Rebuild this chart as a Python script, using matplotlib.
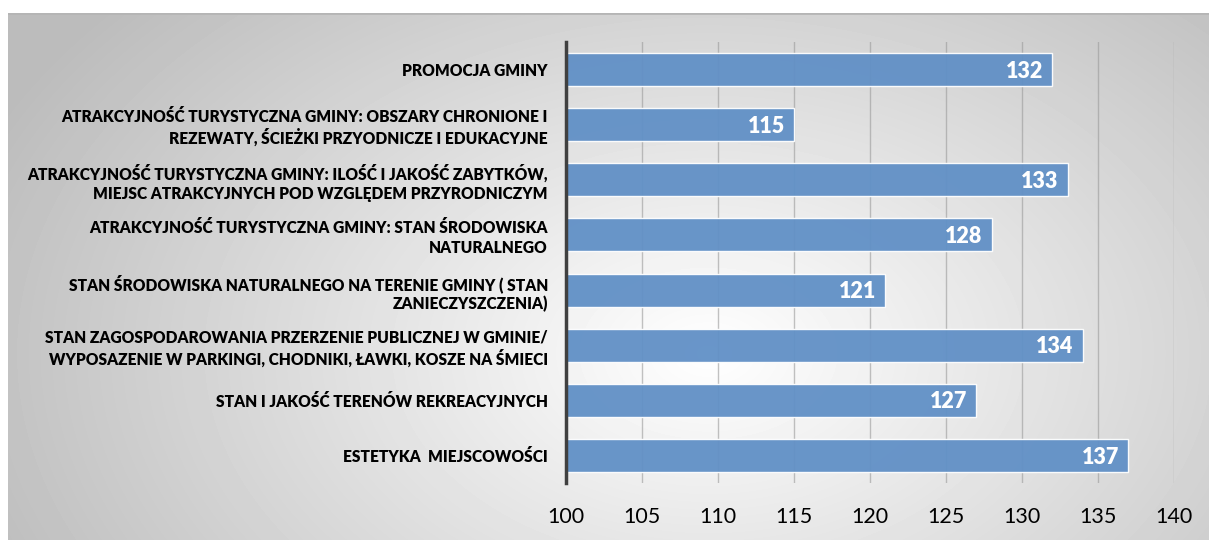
import numpy as np
import matplotlib.pyplot as plt

categories = [
    "PROMOCJA GMINY",
    "ATRAKCYJNOŚĆ TURYSTYCZNA GMINY: OBSZARY CHRONIONE I\nREZEWATY, ŚCIEŻKI PRZYODNICZE I EDUKACYJNE",
    "ATRAKCYJNOŚĆ TURYSTYCZNA GMINY: ILOŚĆ I JAKOŚĆ ZABYTKÓW,\nMIEJSC ATRAKCYJNYCH POD WZGLĘDEM PRZYRODNICZYM",
    "ATRAKCYJNOŚĆ TURYSTYCZNA GMINY: STAN ŚRODOWISKA\nNATURALNEGO",
    "STAN ŚRODOWISKA NATURALNEGO NA TERENIE GMINY ( STAN\nZANIECZYSZCZENIA)",
    "STAN ZAGOSPODAROWANIA PRZERZENIE PUBLICZNEJ W GMINIE/\nWYPOSAZENIE W PARKINGI, CHODNIKI, ŁAWKI, KOSZE NA ŚMIECI",
    "STAN I JAKOŚĆ TERENÓW REKREACYJNYCH",
    "ESTETYKA  MIEJSCOWOŚCI",
]
values = [132, 115, 133, 128, 121, 134, 127, 137]
xticks = [100, 105, 110, 115, 120, 125, 130, 135, 140]

plt.rcParams['font.family'] = ['Lato', 'DejaVu Sans']

fig = plt.figure(figsize=(12.09, 5.4), dpi=100)

# radial gradient background
bg = fig.add_axes([8 / 1209, 0, 1 - 8 / 1209, 1 - 13 / 540], zorder=0)
h, w = 527, 1201
yy, xx = np.mgrid[0:h, 0:w]
cx, cy = 700, 340
r = np.sqrt(((xx - cx) / 720.0) ** 2 + ((yy - cy) / 480.0) ** 2)
r = np.clip(r, 0, 1.1)
shade = 1.0 - 0.24 * r
bg.imshow(shade, cmap='gray', vmin=0, vmax=1, aspect='auto', extent=[0, 1, 0, 1])
bg.axhline(1, color='#b5b5b5', lw=2)
bg.set_axis_off()

ax = fig.add_axes([566 / 1209, 1 - 483 / 540, (1174 - 566) / 1209, (483 - 42) / 540], zorder=1)
ax.patch.set_alpha(0)
y = np.arange(len(categories))
ax.barh(y, np.array(values) - 100, left=100, height=0.6, color='#6190C6',
        edgecolor='white', linewidth=1, alpha=0.95, zorder=3)
for yi, v in zip(y, values):
    ax.text(v - 0.6, yi + 0.03, str(v), ha='right', va='center', color='white',
            fontsize=15.5, fontweight='heavy', zorder=4)

ax.set_xlim(100, 140)
ax.set_ylim(len(categories) - 0.5, -0.5)
ax.set_xticks(xticks)
ax.set_xticklabels([str(t) for t in xticks], fontsize=15.5)
ax.set_yticks(y)
ax.set_yticklabels(categories, fontsize=11.2, fontweight='heavy', linespacing=1.25)
ax.tick_params(axis='both', length=0)
ax.tick_params(axis='x', pad=17)
ax.tick_params(axis='y', pad=13)
ax.grid(axis='x', color='#9a9a9a', lw=1, alpha=0.6, zorder=1)
for s in ['top', 'right', 'bottom']:
    ax.spines[s].set_visible(False)
ax.spines['left'].set_color('#404040')
ax.spines['left'].set_linewidth(2.5)
ax.spines['left'].set_zorder(5)

fig.savefig('out.png', dpi=100)
